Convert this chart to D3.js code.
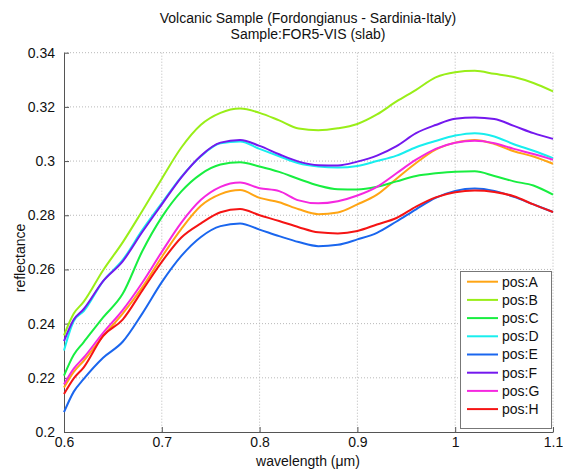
<!DOCTYPE html>
<html>
<head>
<meta charset="utf-8">
<script src="https://cdn.jsdelivr.net/npm/d3@7"></script>
<style>
  body { margin: 0; background: #fff; }
  text { font-family: "Liberation Sans", Arial, sans-serif; fill: #111; }
</style>
</head>
<body>
<svg id="chart" width="563" height="471"></svg>
<script>
const wavelengths = [0.60,0.61,0.62,0.64,0.66,0.68,0.70,0.72,0.74,0.76,0.78,0.80,0.82,0.84,0.86,0.88,0.90,0.92,0.94,0.96,0.98,1.00,1.02,1.04,1.06,1.08,1.10];
const posA = [0.2164,0.2222,0.2262,0.2354,0.2437,0.2534,0.2646,0.2750,0.2835,0.2878,0.2893,0.2864,0.2848,0.2822,0.2804,0.2810,0.2840,0.2876,0.2935,0.2993,0.3042,0.3068,0.3078,0.3063,0.3036,0.3017,0.2990];
const posB = [0.2357,0.2437,0.2480,0.2597,0.2700,0.2816,0.2935,0.3050,0.3134,0.3178,0.3194,0.3178,0.3150,0.3120,0.3114,0.3121,0.3137,0.3172,0.3220,0.3263,0.3309,0.3328,0.3333,0.3322,0.3310,0.3288,0.3257];
const posC = [0.2208,0.2285,0.2331,0.2423,0.2510,0.2667,0.2793,0.2888,0.2952,0.2987,0.2996,0.2980,0.2960,0.2934,0.2910,0.2896,0.2895,0.2905,0.2925,0.2945,0.2955,0.2961,0.2962,0.2945,0.2925,0.2910,0.2876];
const posD = [0.2301,0.2410,0.2445,0.2557,0.2635,0.2745,0.2845,0.2942,0.3018,0.3066,0.3072,0.3045,0.3018,0.2992,0.2980,0.2976,0.2982,0.3000,0.3020,0.3051,0.3074,0.3094,0.3103,0.3091,0.3062,0.3038,0.3011];
const posE = [0.2073,0.2149,0.2195,0.2274,0.2333,0.2437,0.2553,0.2650,0.2720,0.2760,0.2770,0.2747,0.2723,0.2701,0.2686,0.2691,0.2711,0.2735,0.2777,0.2822,0.2864,0.2890,0.2899,0.2890,0.2868,0.2840,0.2812];
const posF = [0.2335,0.2415,0.2453,0.2557,0.2630,0.2738,0.2840,0.2940,0.3020,0.3068,0.3078,0.3056,0.3025,0.2998,0.2985,0.2984,0.2998,0.3020,0.3055,0.3103,0.3133,0.3156,0.3161,0.3155,0.3130,0.3103,0.3082];
const posG = [0.2176,0.2234,0.2274,0.2366,0.2450,0.2551,0.2665,0.2773,0.2857,0.2905,0.2921,0.2900,0.2889,0.2855,0.2844,0.2852,0.2873,0.2905,0.2955,0.3005,0.3045,0.3068,0.3075,0.3066,0.3045,0.3026,0.3005];
const posH = [0.2140,0.2198,0.2238,0.2355,0.2415,0.2522,0.2628,0.2718,0.2770,0.2811,0.2823,0.2800,0.2779,0.2756,0.2737,0.2733,0.2742,0.2766,0.2790,0.2832,0.2866,0.2885,0.2891,0.2886,0.2870,0.2840,0.2812];

const seriesNames = ["pos:A","pos:B","pos:C","pos:D","pos:E","pos:F","pos:G","pos:H"];
const seriesValues = [posA,posB,posC,posD,posE,posF,posG,posH];
const seriesColors = ["#ffa514","#99ee18","#18ee40","#18eeee","#1a66ee","#7418ee","#f528e0","#f51414"];
const xTicks = [0.6,0.7,0.8,0.9,1.0,1.1];
const xTickLabels = ["0.6","0.7","0.8","0.9","1","1.1"];
const yTicks = [0.2,0.22,0.24,0.26,0.28,0.3,0.32,0.34];
const yTickLabels = ["0.2","0.22","0.24","0.26","0.28","0.3","0.32","0.34"];

const svg = d3.select("#chart");
const L = 64, R = 553, T = 52.7, B = 432;
const x = d3.scaleLinear().domain([0.6,1.1]).range([L,R]);
const y = d3.scaleLinear().domain([0.2,0.34]).range([B,T]);

// grid
const grid = svg.append("g");
grid.selectAll(".gx").data(xTicks.slice(1)).join("line")
  .attr("x1", d=>x(d)).attr("x2", d=>x(d)).attr("y1", T).attr("y2", B)
  .attr("stroke", "#b8b8b8").attr("stroke-width", 1).attr("stroke-dasharray", "1,2");
grid.selectAll(".gy").data(yTicks.slice(1)).join("line")
  .attr("x1", L).attr("x2", R).attr("y1", d=>y(d)).attr("y2", d=>y(d))
  .attr("stroke", "#b8b8b8").attr("stroke-width", 1).attr("stroke-dasharray", "1,2");

// axes
const xAxis = d3.axisBottom(x).tickValues(xTicks).tickFormat((d,i)=>xTickLabels[i]).tickSizeInner(-5).tickSizeOuter(0).tickPadding(9);
const yAxis = d3.axisLeft(y).tickValues(yTicks).tickFormat((d,i)=>yTickLabels[i]).tickSizeInner(-5).tickSizeOuter(0).tickPadding(9);
const gx = svg.append("g").attr("transform", `translate(0,${B})`).call(xAxis);
const gy = svg.append("g").attr("transform", `translate(${L},0)`).call(yAxis);
[gx, gy].forEach(g => {
  g.selectAll("path,line").attr("stroke", "#555");
  g.selectAll("text").attr("font-size", 14).attr("fill", "#111")
   .attr("font-family", '"Liberation Sans", Arial, sans-serif');
});
gx.selectAll("text").attr("dy", "0.45em");

// lines
const line = d3.line().x((d,i)=>x(wavelengths[i])).y(d=>y(d)).curve(d3.curveMonotoneX);
svg.append("g").selectAll("path").data(seriesValues).join("path")
  .attr("d", d=>line(d)).attr("fill","none")
  .attr("stroke", (d,i)=>seriesColors[i]).attr("stroke-width", 2)
  .attr("stroke-linejoin","round");

// titles
svg.append("text").attr("x", 308).attr("y", 23).attr("text-anchor","middle").attr("font-size",14)
  .text("Volcanic Sample (Fordongianus - Sardinia-Italy)");
svg.append("text").attr("x", 308).attr("y", 39).attr("text-anchor","middle").attr("font-size",14)
  .text("Sample:FOR5-VIS (slab)");
svg.append("text").attr("x", 308).attr("y", 466).attr("text-anchor","middle").attr("font-size",14)
  .text("wavelength (\u03bcm)");
svg.append("text").attr("transform","translate(25,258) rotate(-90)").attr("text-anchor","middle").attr("font-size",14)
  .text("reflectance");

// legend
const lg = svg.append("g");
lg.append("rect").attr("x",460.5).attr("y",271.5).attr("width",91).attr("height",157)
  .attr("fill","#fff").attr("stroke","#777").attr("stroke-width",1);
const rows = lg.selectAll(".row").data(seriesNames).join("g")
  .attr("transform", (d,i)=>`translate(0,${281.7 + i*18.2})`);
rows.append("line").attr("x1",467).attr("x2",498).attr("y1",0).attr("y2",0)
  .attr("stroke",(d,i)=>seriesColors[i]).attr("stroke-width",2);
rows.append("text").attr("x",502).attr("y",0).attr("dy","0.35em").attr("font-size",14).text(d=>d);
</script>
</body>
</html>
